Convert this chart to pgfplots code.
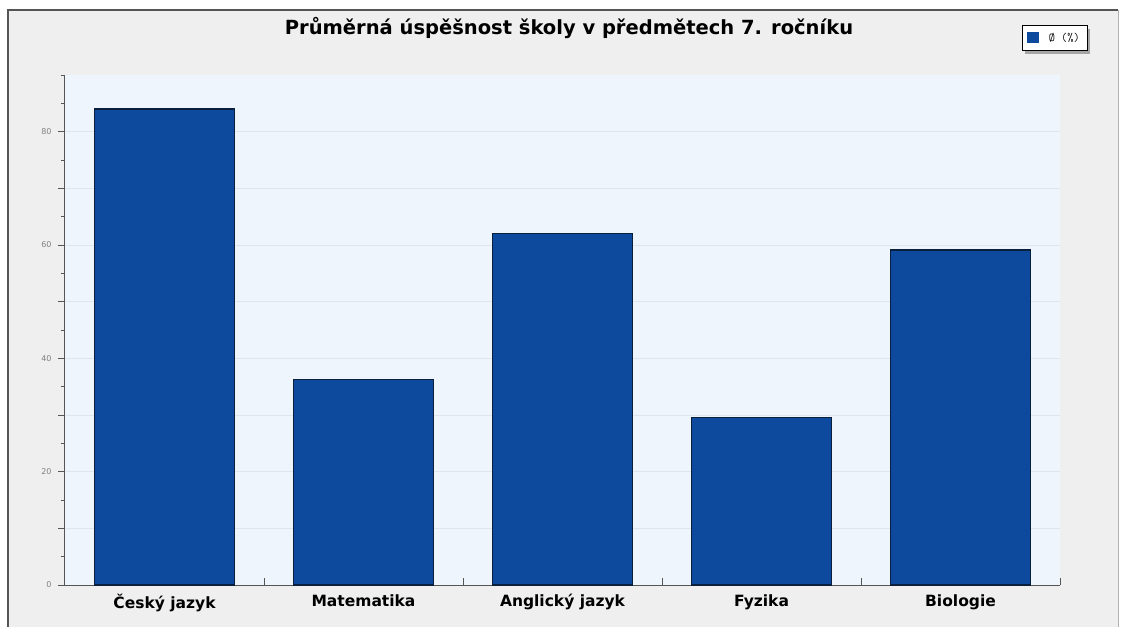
\documentclass[border=0pt]{standalone}
\usepackage{pgfplots}
\pgfplotsset{compat=1.18}
\usepackage{fontspec}
\setmainfont{DejaVu Sans}

\definecolor{barblue}{HTML}{0D4A9E}
\definecolor{baredge}{HTML}{0A1F3C}
\definecolor{plotbg}{HTML}{EEF5FC}
\definecolor{outerbg}{HTML}{EFEFEF}
\definecolor{gridc}{HTML}{DDE6EF}
\definecolor{axisc}{HTML}{555555}

\begin{document}
\begin{tikzpicture}[x=1pt,y=1pt]
\useasboundingbox (-65,-42) rectangle (1056,585);
% outer panel
\fill[white] (-65,-42) rectangle (1056,585);
\fill[outerbg] (-57,-42) rectangle (1053,575);
\draw[axisc, line width=1.5pt] (-57,-42) -- (-57,575) -- (1053,575);
\draw[gray!60, line width=0.8pt] (1053,575) -- (1053,-42);
\node[font=\bfseries\fontsize{19.5}{23}\selectfont] at (504,557) {Průměrná úspěšnost školy v předmětech 7. ročníku};
% legend shadow
\fill[gray!70] (960,531) rectangle (1024.5,556);

\begin{axis}[
  at={(0,0)}, anchor=south west,
  scale only axis,
  width=995pt, height=510pt,
  axis background/.style={fill=plotbg},
  axis lines=left,
  axis line style={-, axisc, line width=1pt},
  xmin=-0.5, xmax=4.5,
  ymin=0, ymax=90,
  ytick={0,20,40,60,80},
  minor ytick={5,10,...,90},
  extra y ticks={10,30,50,70},
  extra y tick labels={},
  extra y tick style={grid=major, major grid style={gridc, line width=0.8pt}},
  ymajorgrids,
  major grid style={gridc, line width=0.8pt},
  tick align=outside,
  major tick length=7pt,
  minor tick length=4pt,
  tick style={axisc, line width=0.8pt},
  /pgf/number format/assume math mode=true,
  yticklabel style={font=\fontsize{8}{9}\selectfont, text=gray, xshift=-3pt},
  xtick={0.5,1.5,2.5,3.5,4.5},
  xticklabels={},
  xtick style={yshift=7pt},
  xticklabel style={font=\bfseries\fontsize{15.5}{18}\selectfont, yshift=-6pt},
  extra x ticks={0,1,2,3,4},
  extra x tick labels={Český jazyk, Matematika, Anglický jazyk, Fyzika, Biologie},
  extra x tick style={major tick length=0pt},
  legend style={at={(0.962,1.098)}, anchor=north west, draw=black, fill=white,
    font=\ttfamily\fontsize{12}{14}\selectfont, inner xsep=5pt, inner ysep=5.5pt,
    legend cell align=left},
  legend image code/.code={\fill[barblue] (0cm,-0.18cm) rectangle (0.36cm,0.18cm);},
]
\addplot[ybar, bar width=140pt, fill=barblue, draw=baredge, line width=1.2pt]
  coordinates {(0,84) (1,36.2) (2,62) (3,29.6) (4,59.1)};
\addlegendentry{\hspace{8pt}Ø (\%)}
\end{axis}
\end{tikzpicture}
\end{document}
